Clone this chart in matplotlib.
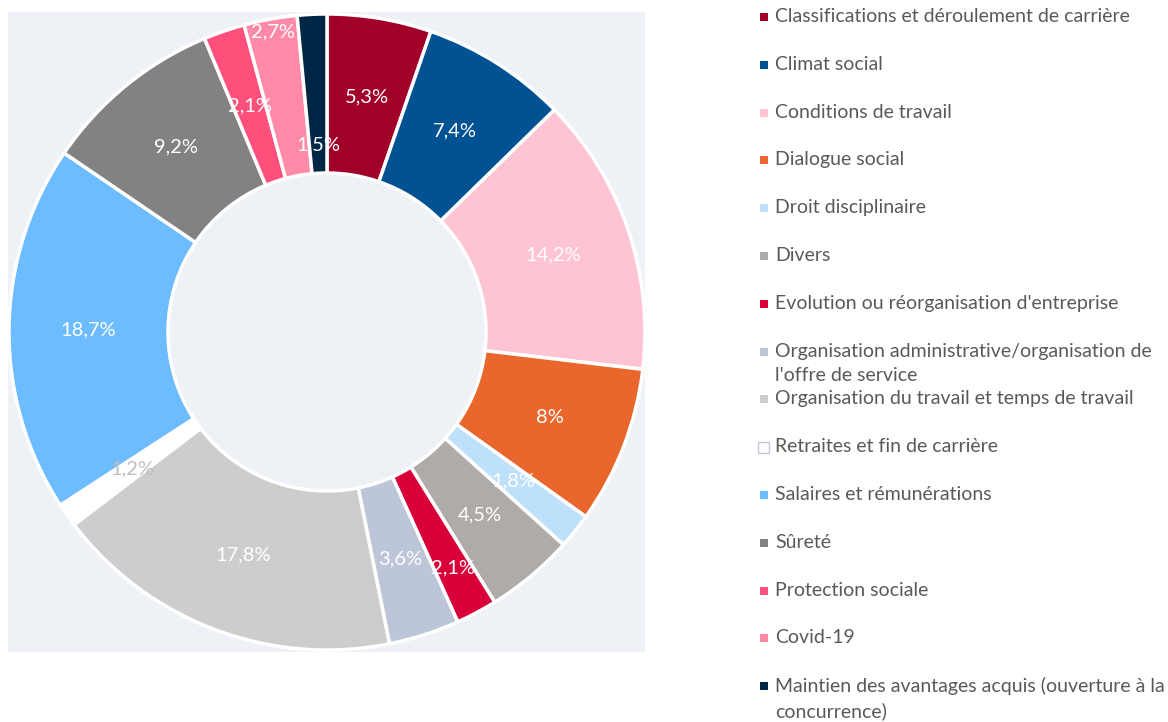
import matplotlib.pyplot as plt
import numpy as np
from matplotlib.patches import Rectangle

# motifs des sollicitations, en pourcentage
categories = [
    "Classifications et déroulement de carrière",
    "Climat social",
    "Conditions de travail",
    "Dialogue social",
    "Droit disciplinaire",
    "Divers",
    "Evolution ou réorganisation d'entreprise",
    "Organisation administrative/organisation de\nl'offre de service",
    "Organisation du travail et temps de travail",
    "Retraites et fin de carrière",
    "Salaires et rémunérations",
    "Sûreté",
    "Protection sociale",
    "Covid-19",
    "Maintien des avantages acquis (ouverture à la\nconcurrence)",
]
values = [5.3, 7.4, 14.2, 8, 1.8, 4.5, 2.1, 3.6, 17.8, 1.2, 18.7, 9.2, 2.1, 2.7, 1.5]
colors = ["#A10029", "#005293", "#FFC4D4", "#E9662C", "#BDE0FB", "#AEABA8",
          "#D90039", "#BCC6D8", "#CDCDCD", "#FFFFFF", "#6CBCFF", "#828282",
          "#FF4F7B", "#FF8AA7", "#002646"]

W, H = 1168, 722
fig = plt.figure(figsize=(W / 100, H / 100), dpi=100)
fig.patch.set_facecolor("white")

# fond du graphique
fig.add_artist(Rectangle((8 / W, 70 / H), 637 / W, 640 / H,
                         transform=fig.transFigure, facecolor="#EEF2F6",
                         edgecolor="none", zorder=0))

cx, cy, R = 327, 390, 318
ax = fig.add_axes([(cx - R) / W, (cy - R) / H, 2 * R / W, 2 * R / H])
ax.set_facecolor("none")
wedges, _ = ax.pie(values, colors=colors, startangle=90, counterclock=False,
                   radius=1, wedgeprops=dict(width=0.5, edgecolor="white", linewidth=2.5))
ax.set_xlim(-1, 1)
ax.set_ylim(-1, 1)
ax.set_aspect("equal")
ax.axis("off")

# petites parts : étiquettes décalées pour ne pas se chevaucher
label_r = {6: 0.84, 13: 0.96, 14: 0.59}
for i, (w, v, c) in enumerate(zip(wedges, values, colors)):
    ang = np.deg2rad((w.theta1 + w.theta2) / 2)
    r = label_r.get(i, 0.75)
    txt = f"{v:g}".replace(".", ",") + "%"
    tc = "#BFBFBF" if c == "#FFFFFF" else "white"
    ax.text(r * np.cos(ang), r * np.sin(ang), txt, ha="center", va="center",
            fontsize=14.5, color=tc, family="Lato")

# légende
y0, dy = 17, 47.8
for i, (lab, c) in enumerate(zip(categories, colors)):
    y = 1 - (y0 + i * dy) / H
    if c == "#FFFFFF":
        fig.add_artist(Rectangle((758 / W, y - 5.5 / H), 11 / W, 11 / H,
                                 transform=fig.transFigure, facecolor="white",
                                 edgecolor="#BCC6D8", linewidth=1))
    else:
        fig.add_artist(Rectangle((760 / W, y - 4 / H), 8 / W, 8 / H,
                                 transform=fig.transFigure, facecolor=c,
                                 edgecolor="none"))
    fig.text(775 / W, y + 9 / H, lab, ha="left", va="top", fontsize=14,
             color="#595959", family="Lato", linespacing=1.5)

fig.savefig("out.png", dpi=100)
